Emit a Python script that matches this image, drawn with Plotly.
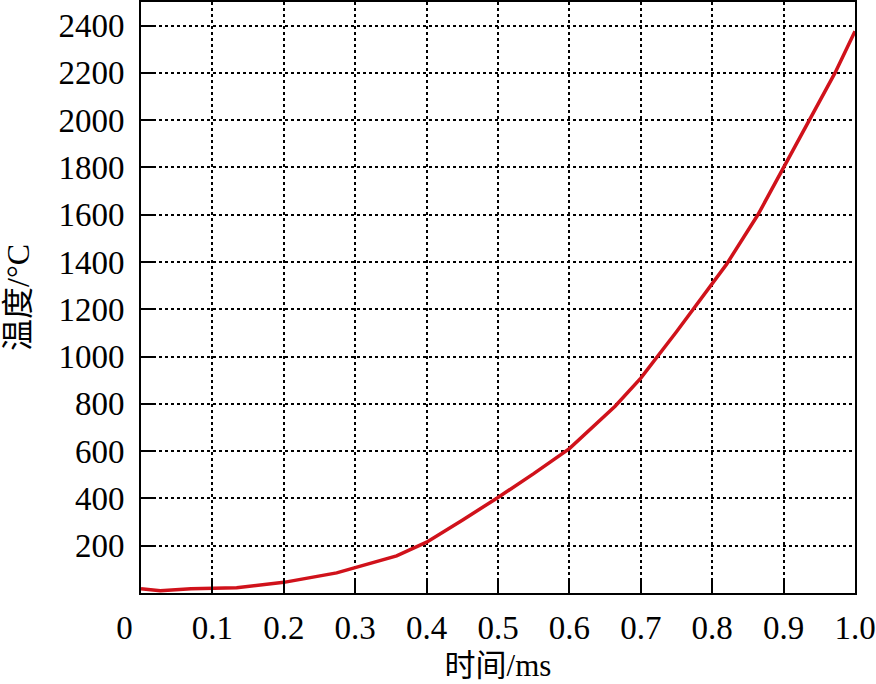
import plotly.graph_objects as go

# time (ms) and temperature (°C)
time_ms = [0, 0.027, 0.07, 0.134, 0.2, 0.274, 0.358, 0.4, 0.45, 0.5, 0.55,
           0.6, 0.664, 0.7, 0.75, 0.8, 0.82, 0.864, 0.9, 0.937, 0.972, 1.0]
temp_c = [18, 10, 18, 22, 45, 85, 157, 215, 308, 404, 505,
          611, 790, 909, 1105, 1307, 1390, 1600, 1800, 2000, 2200, 2376]

x_ticks = [0, 0.1, 0.2, 0.3, 0.4, 0.5, 0.6, 0.7, 0.8, 0.9, 1.0]
x_labels = ["0\u00a0\u00a0\u00a0\u00a0", "0.1", "0.2", "0.3", "0.4", "0.5",
            "0.6", "0.7", "0.8", "0.9", "1.0"]
y_ticks = [200, 400, 600, 800, 1000, 1200, 1400, 1600, 1800, 2000, 2200, 2400]

font_family = "Liberation Serif, Noto Sans CJK SC, serif"

fig = go.Figure(go.Scatter(x=time_ms, y=temp_c, mode="lines",
                           line=dict(color="#d0121b", width=3.5)))

axis_style = dict(showline=True, linecolor="black", linewidth=2, mirror=True,
                  ticks="inside", ticklen=13, tickwidth=2, tickcolor="black",
                  showgrid=True, gridcolor="black", gridwidth=1.5, griddash="dot",
                  zeroline=False, tickfont=dict(size=33, color="black"))

fig.update_xaxes(range=[0, 1], tickvals=x_ticks, ticktext=x_labels, ticklabelstandoff=4,
                 title=dict(text="时间/ms", font=dict(size=31, color="black"), standoff=10),
                 **axis_style)
fig.update_yaxes(range=[0, 2500], tickvals=y_ticks, ticklabelstandoff=8,
                 title=dict(text="温度/°C", font=dict(size=32, color="black"), standoff=20),
                 **axis_style)

fig.update_layout(width=876, height=684, showlegend=False,
                  plot_bgcolor="white", paper_bgcolor="white",
                  font=dict(family=font_family, color="black"),
                  margin=dict(l=141, r=21, t=2, b=91, autoexpand=False))

fig.write_html("out.html", config={"displayModeBar": False},
               post_script="document.body.style.margin='0';")
